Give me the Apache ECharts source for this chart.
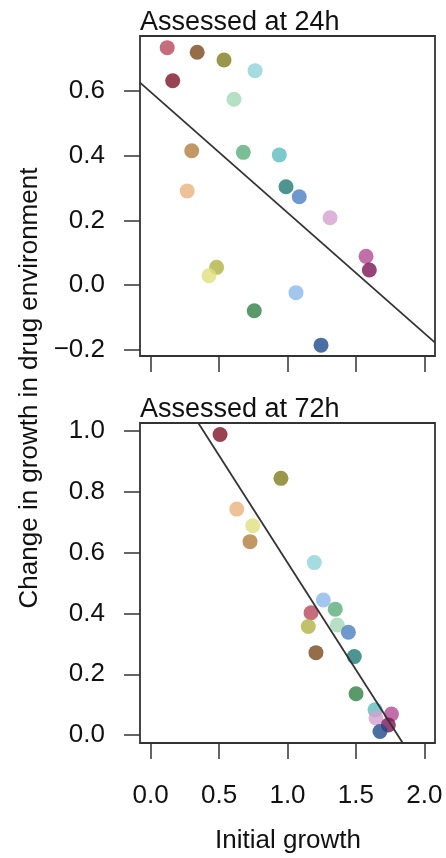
<!DOCTYPE html>
<html>
<head>
<meta charset="utf-8">
<script src="https://cdn.jsdelivr.net/npm/echarts@6/dist/echarts.min.js"></script>
<style>
html,body{margin:0;padding:0;background:#fff;}
#chart{width:446px;height:858px;}
</style>
</head>
<body>
<div id="chart"></div>
<script>
// Strain colours (same strain -> same colour in both panels)
const strainColors = [
  '#b8485c', '#7b4a1b', '#7f7d1c', '#8dd3da', '#7d1426',
  '#a2d8b4', '#b27d3e', '#5aae7c', '#5bbdbf', '#e9b37f',
  '#1f7b74', '#4a7ec2', '#d4a0cf', '#b24a93', '#7c1455',
  '#b2b143', '#e0e07e', '#8cb8ea', '#2f7f45', '#1e4a8c'
];
// Assessed at 24h
const initial24 = [0.121, 0.340, 0.536, 0.763, 0.161, 0.609, 0.300, 0.677, 0.940, 0.267,
                   0.989, 1.086, 1.311, 1.574, 1.598, 0.482, 0.426, 1.062, 0.757, 1.245];
const change24  = [0.733, 0.719, 0.695, 0.662, 0.631, 0.574, 0.415, 0.410, 0.402, 0.291,
                   0.304, 0.273, 0.208, 0.089, 0.047, 0.055, 0.029, -0.023, -0.079, -0.185];
// Assessed at 72h
const initial72 = [1.172, 1.208, 0.952, 1.196, 0.507, 1.364, 0.726, 1.349, 1.640, 0.629,
                   1.488, 1.445, 1.647, 1.760, 1.737, 1.152, 0.746, 1.262, 1.501, 1.676];
const change72  = [0.402, 0.271, 0.844, 0.567, 0.988, 0.362, 0.636, 0.414, 0.083, 0.743,
                   0.258, 0.338, 0.056, 0.069, 0.033, 0.357, 0.688, 0.444, 0.136, 0.012];
// Linear fits [intercept, slope]
const fit24 = [0.596, -0.372];
const fit72 = [1.271, -0.704];
// Tick labels
const xTicks = [0, 0.5, 1, 1.5, 2];
const yTicks24 = [-0.2, 0, 0.2, 0.4, 0.6];
const yTicks72 = [0, 0.2, 0.4, 0.6, 0.8, 1.0];
const titles = ['Assessed at 24h', 'Assessed at 72h'];
const xTitle = 'Initial growth';
const yTitle = 'Change in growth in drug environment';

const xRange = [-0.078, 2.078];
const yRange24 = [-0.2185, 0.769];
const yRange72 = [-0.026, 1.026];

const FONT = '"Liberation Sans", Arial, Helvetica, sans-serif';
const fmt = v => (v < 0 ? '\u2212' : '') + Math.abs(v).toFixed(1);

function pts(xs, ys) {
  return xs.map((x, i) => ({ value: [x, ys[i]], itemStyle: { color: strainColors[i] } }));
}
function fitLine(f) {
  return xRange.map(x => [x, f[0] + f[1] * x]);
}
function xAxisDef(gi, showLabels) {
  return {
    type: 'value', gridIndex: gi, min: xRange[0], max: xRange[1],
    axisLine: { show: false, onZero: false },
    splitLine: { show: false },
    axisTick: { show: true, inside: false, length: 16, customValues: xTicks,
                lineStyle: { color: '#333', width: 1.5 } },
    axisLabel: { show: showLabels, customValues: xTicks, formatter: fmt, margin: 40,
                 fontSize: 26, fontFamily: FONT, color: '#111' }
  };
}
function yAxisDef(gi, range, ticks) {
  return {
    type: 'value', gridIndex: gi, min: range[0], max: range[1],
    axisLine: { show: false, onZero: false },
    splitLine: { show: false },
    axisTick: { show: true, inside: false, length: 16, customValues: ticks,
                lineStyle: { color: '#333', width: 1.5 } },
    axisLabel: { show: true, customValues: ticks, formatter: fmt, margin: 35,
                 fontSize: 26, fontFamily: FONT, color: '#111' }
  };
}

const chart = echarts.init(document.getElementById('chart'), null, { renderer: 'canvas' });
chart.setOption({
  animation: false,
  backgroundColor: '#fff',
  grid: [
    { left: 140, top: 36, width: 295, height: 320, show: true, borderColor: '#333', borderWidth: 1.8, backgroundColor: 'transparent' },
    { left: 140, top: 423, width: 295, height: 320, show: true, borderColor: '#333', borderWidth: 1.8, backgroundColor: 'transparent' }
  ],
  xAxis: [xAxisDef(0, false), xAxisDef(1, true)],
  yAxis: [yAxisDef(0, yRange24, yTicks24), yAxisDef(1, yRange72, yTicks72)],
  title: [
    { text: titles[0], left: 140, top: 9, padding: 0, textStyle: { fontSize: 27, fontWeight: 'normal', fontFamily: FONT, color: '#111' } },
    { text: titles[1], left: 140, top: 396, padding: 0, textStyle: { fontSize: 27, fontWeight: 'normal', fontFamily: FONT, color: '#111' } }
  ],
  graphic: [
    { type: 'text', x: 288, y: 841, style: { text: xTitle, font: '26px ' + FONT, fill: '#111', textAlign: 'center', textVerticalAlign: 'middle' } },
    { type: 'text', x: 30, y: 388, rotation: Math.PI / 2, style: { text: yTitle, font: '26px ' + FONT, fill: '#111', textAlign: 'center', textVerticalAlign: 'middle' } }
  ],
  series: [
    { type: 'scatter', xAxisIndex: 0, yAxisIndex: 0, symbolSize: 15, data: pts(initial24, change24), z: 2 },
    { type: 'line', xAxisIndex: 0, yAxisIndex: 0, data: fitLine(fit24), showSymbol: false, symbol: 'none', clip: true,
      lineStyle: { color: '#333', width: 1.8 }, z: 3 },
    { type: 'scatter', xAxisIndex: 1, yAxisIndex: 1, symbolSize: 15, data: pts(initial72, change72), z: 2 },
    { type: 'line', xAxisIndex: 1, yAxisIndex: 1, data: fitLine(fit72), showSymbol: false, symbol: 'none', clip: true,
      lineStyle: { color: '#333', width: 1.8 }, z: 3 }
  ]
});
</script>
</body>
</html>
